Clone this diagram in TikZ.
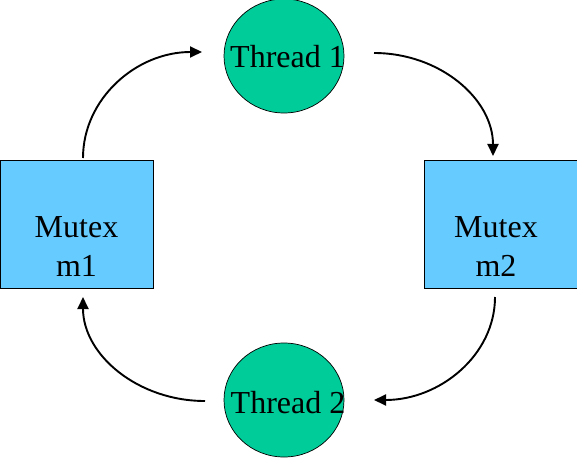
\documentclass[tikz,border=0pt]{standalone}
\usepackage{fontspec}
\setmainfont{Liberation Serif}
\usetikzlibrary{arrows.meta,shapes.geometric}
\definecolor{thrgreen}{HTML}{00CC99}
\definecolor{mtxblue}{HTML}{66CCFF}
\begin{document}
\begin{tikzpicture}[x=1pt,y=-1pt,
  thread/.style={ellipse,draw=black,line width=0.7pt,fill=thrgreen,minimum width=120pt,minimum height=114pt,inner sep=0pt,font=\fontsize{32}{38}\selectfont},
  mutex/.style={rectangle,draw=black,line width=0.7pt,fill=mtxblue,minimum width=153pt,minimum height=128pt,inner sep=0pt},
  mtext/.style={align=center,inner sep=0pt,font=\fontsize{32}{39}\selectfont},
  conn/.style={line width=1.9pt,-{Triangle[length=12pt,width=11pt]}}]
\useasboundingbox (0,0) rectangle (577,457);
\node[thread] (t1) at (284,56) {\hspace*{7pt}\raisebox{-12pt}[0pt][0pt]{\makebox[0pt]{Thread 1}}};
\node[thread] (t2) at (284,400) {\hspace*{8pt}\raisebox{-13pt}[0pt][0pt]{\makebox[0pt]{Thread 2}}};
\node[mutex] (m1) at (76.5,224) {};
\node[mutex] (m2) at (500.5,224) {};
\node[mtext] (m1t) at (76.5,247) {Mutex\\m1};
\node[mtext] (m2t) at (496,247) {Mutex\\m2};
\coordinate (a1s) at (83,158);
\coordinate (a1e) at (202,52);
\coordinate (a2s) at (374,53);
\coordinate (a2e) at (493,156);
\coordinate (a3s) at (495,297);
\coordinate (a3e) at (374,400);
\coordinate (a4s) at (205,401);
\coordinate (a4e) at (83,297);
\draw[conn] (a1s) .. controls (83,99) and (136,52) .. (a1e);
\draw[conn] (a2s) .. controls (440,53) and (493,99) .. (a2e);
\draw[conn] (a3s) .. controls (495,355) and (440,400) .. (a3e);
\draw[conn] (a4s) .. controls (138,401) and (83,355) .. (a4e);
\end{tikzpicture}
\end{document}
